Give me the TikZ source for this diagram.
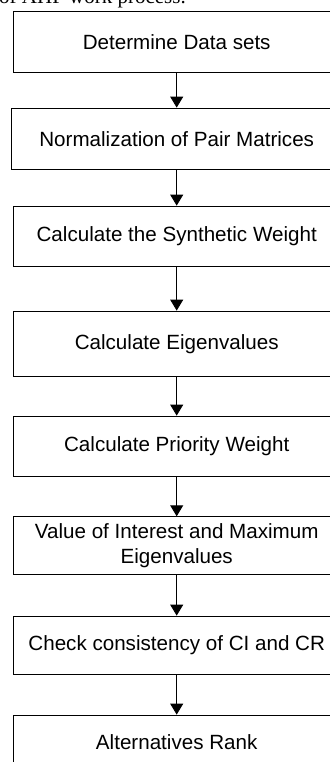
\documentclass[tikz,border=0pt]{standalone}
\usepackage{fontspec}
\setmainfont{Liberation Sans}
\newfontfamily\capfont{Liberation Serif}
\usetikzlibrary{arrows.meta}
\begin{document}
\begin{tikzpicture}[x=1pt,y=1pt,
  stepbox/.style={draw=black, line width=0.8pt, rectangle, minimum width=326.8pt,
    inner sep=0pt, align=center, font=\fontsize{20.6}{24.5}\selectfont},
  flow/.style={draw=black, line width=0.9pt, -{Triangle[width=13pt,length=11pt]}}]
\useasboundingbox (0,0) rectangle (329,-762);
\node[anchor=base west, inner sep=0pt, font=\capfont\fontsize{21}{24}\selectfont] (cap) at (-1,-4) {of AHP work process.};
\node[stepbox, minimum height=61.7pt] (b1) at (176.7,-41.85) {Determine Data sets};
\node[stepbox, minimum height=61.3pt, minimum width=330.4pt] (b2) at (176.7,-138.65) {Normalization of Pair Matrices};
\node[stepbox, minimum height=60.7pt] (b3) at (176.7,-236.35) {Calculate the Synthetic Weight};
\node[stepbox, minimum height=65.7pt] (b4) at (176.7,-343.85) {Calculate Eigenvalues};
\node[stepbox, minimum height=60.7pt] (b5) at (176.7,-446.35) {Calculate Priority Weight};
\node[stepbox, minimum height=57.6pt] (b6) at (176.7,-545.5) {Value of Interest and Maximum\\Eigenvalues};
\node[stepbox, minimum height=58.3pt] (b7) at (176.7,-645.15) {Check consistency of CI and CR};
\node[stepbox, minimum height=54pt] (b8) at (176.7,-742) {Alternatives Rank};
\draw[flow] (b1.south) -- (b2.north);
\draw[flow] (b2.south) -- (b3.north);
\draw[flow] (b3.south) -- (b4.north);
\draw[flow] (b4.south) -- (b5.north);
\draw[flow] (b5.south) -- (b6.north);
\draw[flow] (b6.south) -- (b7.north);
\draw[flow] (b7.south) -- (b8.north);
\end{tikzpicture}
\end{document}
